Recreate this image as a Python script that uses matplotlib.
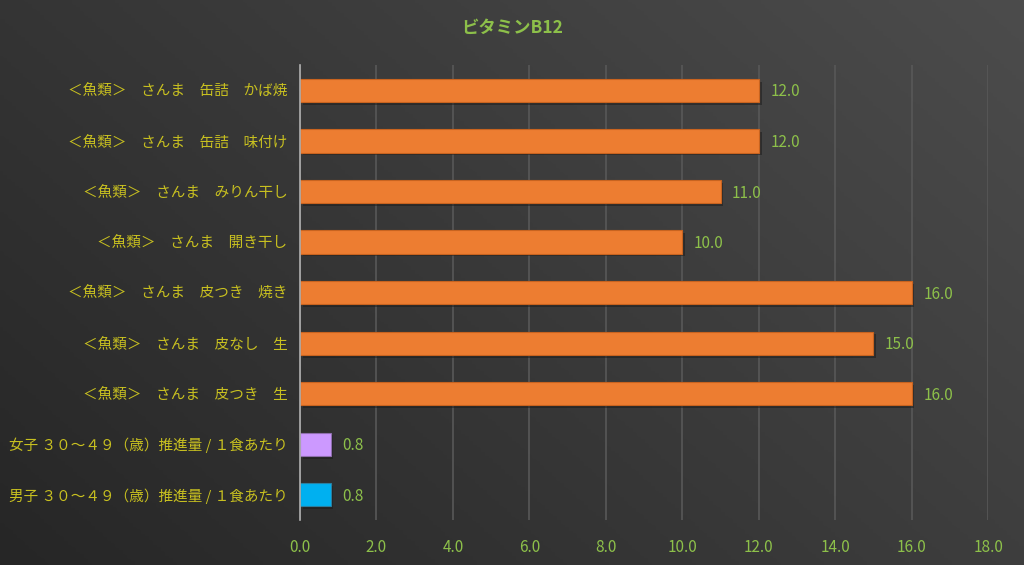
import matplotlib
matplotlib.use('Agg')

import numpy as np
import matplotlib.pyplot as plt
import matplotlib.patheffects as pe

plt.rcParams['font.family'] = ['Noto Sans CJK JP', 'DejaVu Sans']

labels = [
    '男子 ３０～４９（歳）推進量 / １食あたり',
    '女子 ３０～４９（歳）推進量 / １食あたり',
    '＜魚類＞　さんま　皮つき　生',
    '＜魚類＞　さんま　皮なし　生',
    '＜魚類＞　さんま　皮つき　焼き',
    '＜魚類＞　さんま　開き干し',
    '＜魚類＞　さんま　みりん干し',
    '＜魚類＞　さんま　缶詰　味付け',
    '＜魚類＞　さんま　缶詰　かば焼',
]
values = [0.8, 0.8, 16.0, 15.0, 16.0, 10.0, 11.0, 12.0, 12.0]
colors = ['#00B0F0', '#CC99FF'] + ['#ED7D31'] * 7
edges = ['#2a7fa0', '#8f6fae'] + ['#c8631f'] * 7
xticks = [0, 2, 4, 6, 8, 10, 12, 14, 16, 18]

fig = plt.figure(figsize=(10.24, 5.65), dpi=100)

# gradient background
bg = fig.add_axes([0, 0, 1, 1], zorder=-10)
gx = np.linspace(0, 1, 256)
gy = np.linspace(0, 1, 256)
X, Y = np.meshgrid(gx, gy)
G = 0.62 * X + 0.38 * (1 - Y)
bg.imshow(G, cmap=matplotlib.colors.LinearSegmentedColormap.from_list(
    'g', ['#262626', '#4c4c4c']), aspect='auto', extent=[0, 1, 0, 1], origin='upper')
bg.axis('off')

ax = fig.add_axes([0.293, 0.0796, 0.672, 0.805])
ax.set_facecolor('none')
y = np.arange(len(labels))
bars = ax.barh(y, values, height=0.46, color=colors, edgecolor=edges, linewidth=0.8, zorder=3)
for b in bars:
    b.set_path_effects([pe.SimplePatchShadow(offset=(2, -2), shadow_rgbFace='#1a1a1a', alpha=0.5),
                        pe.Normal()])
for yi, v in zip(y, values):
    ax.text(v + 0.3, yi - 0.03, f'{v:.1f}', va='center', ha='left', color='#8DC04A', fontsize=11)

ax.set_xlim(0, 18)
ax.set_ylim(-0.5, len(labels) - 0.5)
ax.set_xticks(xticks)
ax.set_xticklabels([f'{t:.1f}' for t in xticks])
ax.set_yticks(y)
ax.set_yticklabels(labels)
ax.tick_params(axis='x', colors='#8DC04A', labelsize=11, length=0, pad=14)
ax.tick_params(axis='y', colors='#C8C020', labelsize=10.5, length=0, pad=9)
for lab in ax.get_xticklabels():
    lab.set_color('#8DC04A')
for lab in ax.get_yticklabels():
    lab.set_color('#C8C020')
ax.grid(axis='x', color='#585858', linewidth=1.2, zorder=0)
for s in ['top', 'right', 'bottom']:
    ax.spines[s].set_visible(False)
ax.spines['left'].set_color('#b0b0b0')
ax.spines['left'].set_linewidth(1.2)
ax.spines['left'].set_zorder(4)

fig.text(0.5, 0.951, 'ビタミンB12', ha='center', va='center', color='#8DC04A',
         fontsize=12.5, fontweight='bold')

plt.savefig('out.png', dpi=100)
plt.close(fig)
